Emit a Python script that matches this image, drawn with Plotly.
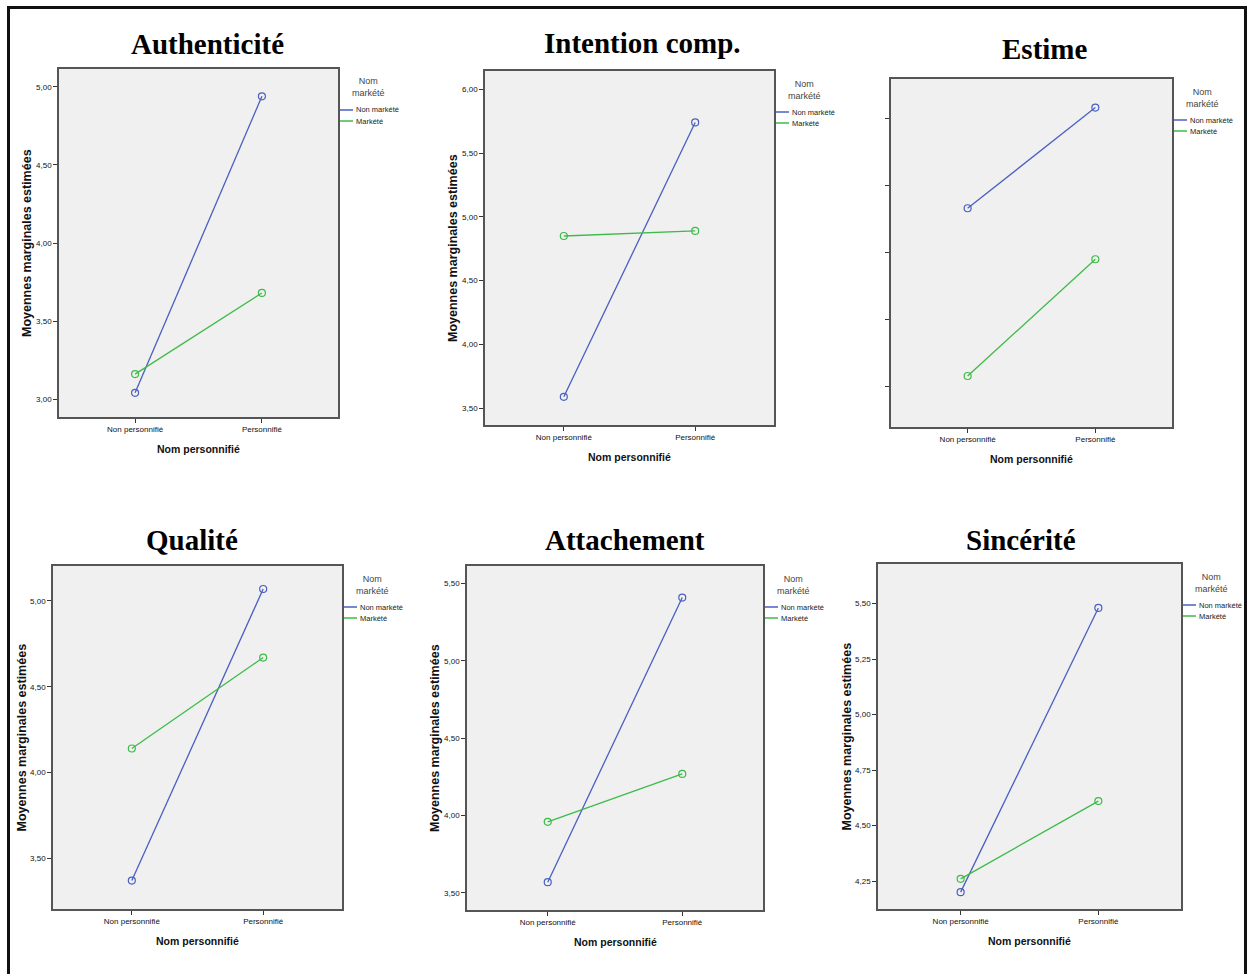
"""
Six SPSS-style interaction plots (estimated marginal means) in one figure
"""
import plotly.graph_objects as go

W, H = 1249, 974

# categories / groups
categories = ["Non personnifié", "Personnifié"]
groups = ["Non markété", "Markété"]
titles = ["Authenticité", "Intention comp.", "Estime", "Qualité", "Attachement", "Sincérité"]

# estimated marginal means
authenticite_non_markete = [3.04, 4.94]
authenticite_markete = [3.16, 3.68]
intention_non_markete = [3.59, 5.74]
intention_markete = [4.85, 4.89]
estime_non_markete = [4.83, 5.58]
estime_markete = [3.58, 4.45]
qualite_non_markete = [3.37, 5.07]
qualite_markete = [4.14, 4.67]
attachement_non_markete = [3.57, 5.41]
attachement_markete = [3.96, 4.27]
sincerite_non_markete = [4.20, 5.48]
sincerite_markete = [4.26, 4.61]

# y tick values per panel
authenticite_ticks = [3.0, 3.5, 4.0, 4.5, 5.0]
intention_ticks = [3.5, 4.0, 4.5, 5.0, 5.5, 6.0]
estime_ticks = [3.5, 4.0, 4.5, 5.0, 5.5]
qualite_ticks = [3.5, 4.0, 4.5, 5.0]
attachement_ticks = [3.5, 4.0, 4.5, 5.0, 5.5]
sincerite_ticks = [4.25, 4.5, 4.75, 5.0, 5.25, 5.5]

series = [
    (authenticite_non_markete, authenticite_markete),
    (intention_non_markete, intention_markete),
    (estime_non_markete, estime_markete),
    (qualite_non_markete, qualite_markete),
    (attachement_non_markete, attachement_markete),
    (sincerite_non_markete, sincerite_markete),
]
ticks = [authenticite_ticks, intention_ticks, estime_ticks,
         qualite_ticks, attachement_ticks, sincerite_ticks]

# layout: plot boxes in pixels (x0, x1, y0, y1), y ranges, title positions
boxes = [(59, 338, 69, 417), (485, 774, 71, 425), (891, 1172, 79, 427),
         (53, 342, 566, 909), (467, 763, 566, 910), (878, 1181, 564, 909)]
yranges = [(2.885, 5.115), (3.369, 6.143), (3.20, 5.793),
           (3.204, 5.204), (3.39, 5.614), (4.124, 5.678)]
title_pos = [(207, 44), (642, 43), (1045, 49), (192, 540), (625, 540), (1021, 540)]
show_labels = [True, True, False, True, True, True]

colors = ["#4A5FC1", "#3DBB48"]
SANS = "Liberation Sans"
SERIF = "Liberation Serif"


def fx(px):
    return px / W


def fy(py):
    return 1 - py / H


fig = go.Figure()
annotations = []
shapes = []

for i, (box, yr, tv, (s_non, s_mark)) in enumerate(zip(boxes, yranges, ticks, series), start=1):
    x0, x1, y0, y1 = box
    for name, vals, col in zip(groups, (s_non, s_mark), colors):
        fig.add_trace(go.Scatter(
            x=categories, y=vals, name=name,
            xaxis=f"x{i}", yaxis=f"y{i}",
            mode="lines+markers",
            line=dict(color=col, width=1.3),
            marker=dict(symbol="circle-open", size=7, color=col, line=dict(width=1.2)),
            showlegend=False, hoverinfo="x+y+name"
        ))

    fig.update_layout(**{
        f"xaxis{i}": dict(
            domain=[fx(x0), fx(x1)], anchor=f"y{i}",
            type="category", categoryorder="array", categoryarray=categories,
            range=[-0.6, 1.6], showgrid=False, zeroline=False,
            showline=True, mirror=True, linecolor="#555555", linewidth=1.5,
            ticks="outside", ticklen=4, tickcolor="#333333", tickwidth=1,
            tickfont=dict(family=SANS, size=8, color="#111111"),
        ),
        f"yaxis{i}": dict(
            domain=[fy(y1), fy(y0)], anchor=f"x{i}",
            range=list(yr), tickvals=tv, tickformat=".2f",
            showticklabels=show_labels[i - 1],
            showgrid=False, zeroline=False,
            showline=True, mirror=True, linecolor="#555555", linewidth=1.5,
            ticks="outside", ticklen=4, tickcolor="#333333", tickwidth=1,
            tickfont=dict(family=SANS, size=8, color="#111111"),
        ),
    })

    # panel title
    tx, ty = title_pos[i - 1]
    annotations.append(dict(
        text=f"<b>{titles[i - 1]}</b>", x=fx(tx), y=fy(ty), xref="paper", yref="paper",
        xanchor="center", yanchor="middle", showarrow=False,
        font=dict(family=SERIF, size=29, color="#000000")))

    # axis titles
    annotations.append(dict(
        text="<b>Nom personnifié</b>", x=fx((x0 + x1) / 2), y=fy(y1 + 32),
        xref="paper", yref="paper", xanchor="center", yanchor="middle",
        showarrow=False, font=dict(family=SANS, size=10.5, color="#111111")))
    if show_labels[i - 1]:
        annotations.append(dict(
            text="<b>Moyennes marginales estimées</b>", x=fx(x0 - 32), y=fy((y0 + y1) / 2),
            xref="paper", yref="paper", xanchor="center", yanchor="middle",
            textangle=-90, showarrow=False,
            font=dict(family=SANS, size=12.5, color="#111111")))

    # legend (drawn by hand, SPSS style)
    annotations.append(dict(
        text="Nom<br>markété", x=fx(x1 + 30), y=fy(y0 + 18.5),
        xref="paper", yref="paper", xanchor="center", yanchor="middle",
        showarrow=False, font=dict(family=SANS, size=9, color="#444444")))
    for k, (name, col) in enumerate(zip(groups, colors)):
        ly = y0 + 41 + 11 * k
        shapes.append(dict(type="line", xref="paper", yref="paper",
                           x0=fx(x1 + 2), x1=fx(x1 + 15), y0=fy(ly), y1=fy(ly),
                           line=dict(color=col, width=1.5)))
        annotations.append(dict(
            text=name, x=fx(x1 + 16), y=fy(ly), xref="paper", yref="paper",
            xanchor="left", yanchor="middle", showarrow=False,
            font=dict(family=SANS, size=7.5, color="#222222")))

# outer frame (left, top, right)
frame = dict(color="#111111", width=3)
shapes.append(dict(type="line", xref="paper", yref="paper",
                   x0=fx(8.5), x1=fx(8.5), y0=fy(6), y1=fy(H + 5), line=frame))
shapes.append(dict(type="line", xref="paper", yref="paper",
                   x0=fx(7), x1=fx(1247), y0=fy(7.5), y1=fy(7.5), line=frame))
shapes.append(dict(type="line", xref="paper", yref="paper",
                   x0=fx(1245.5), x1=fx(1245.5), y0=fy(6), y1=fy(H + 5), line=frame))

fig.update_layout(
    width=W, height=H,
    margin=dict(l=0, r=0, t=0, b=0),
    paper_bgcolor="#FFFFFF", plot_bgcolor="#F0F0F0",
    separators=", ",
    showlegend=False,
    annotations=annotations,
    shapes=shapes,
)

# drop the default page margin so the figure fills the window exactly
fig.write_html("out.html", config={"displayModeBar": False},
               post_script="document.body.style.margin='0';")
